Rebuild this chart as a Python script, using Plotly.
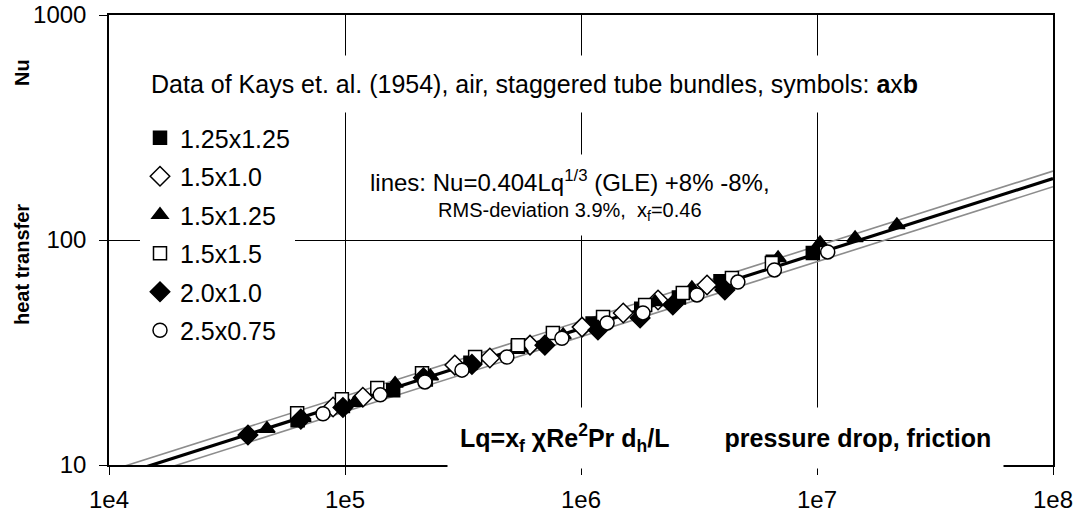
import plotly.graph_objects as go

# ---- data (Lq, Nu) per tube bundle a x b ----
sq_fill_lq = [6.3e4, 9.8e4, 1.6e5, 2.2e5, 3.4e5, 5.4e5, 1.12e6, 1.8e6, 2.6e6, 3.9e6, 6.5e6, 9.6e6]
sq_fill_nu = [15.8, 18.3, 21.5, 24.0, 28.5, 33.5, 42.5, 49.5, 55.5, 65.5, 80.0, 87.5]

dia_open_lq = [8.9e4, 1.19e5, 2.92e5, 4.11e5, 6.08e5, 1.01e6, 1.51e6, 2.12e6, 3.42e6]
dia_open_nu = [18.1, 20.0, 27.8, 29.9, 34.1, 41.0, 47.4, 54.1, 63.1]

tri_lq = [4.67e4, 6.64e4, 1.10e5, 1.63e5, 2.3e5, 3.45e5, 5.52e5, 8.4e5, 2.06e6, 2.95e6, 6.84e6, 1.03e7, 1.45e7, 2.18e7]
tri_nu = [14.5, 16.2, 18.9, 23.0, 24.8, 28.7, 33.1, 37.8, 53.0, 61.2, 83.2, 97.0, 102.0, 116.6]

sq_open_lq = [6.27e4, 9.7e4, 1.37e5, 2.12e5, 3.56e5, 5.41e5, 7.6e5, 1.24e6, 1.87e6, 2.70e6, 4.36e6, 6.44e6]
sq_open_nu = [17.0, 19.6, 22.0, 25.6, 30.2, 34.1, 38.6, 45.5, 51.4, 58.1, 67.8, 79.0]

dia_fill_lq = [3.88e4, 6.5e4, 9.8e4, 2.15e5, 3.45e5, 7.03e5, 1.18e6, 1.78e6, 2.45e6, 4.07e6]
dia_fill_nu = [13.6, 16.0, 18.0, 24.4, 28.0, 34.1, 39.8, 45.0, 51.4, 60.0]

circ_lq = [8.07e4, 1.41e5, 2.18e5, 3.13e5, 4.85e5, 8.3e5, 1.29e6, 1.83e6, 3.10e6, 4.62e6, 6.6e6, 1.11e7]
circ_nu = [16.9, 20.5, 23.4, 26.4, 30.2, 36.6, 42.8, 47.4, 57.0, 65.0, 73.6, 88.5]

# correlation lines Nu = 0.404 Lq^(1/3), +8 %, -8 % (end points)
line_lq = [1e4, 1e8]
line_nu = [8.70, 187.5]
line_up_nu = [9.40, 202.5]
line_lo_nu = [8.01, 172.5]

x_tickvals = [1e4, 1e5, 1e6, 1e7, 1e8]
x_ticktext = ["1e4", "1e5", "1e6", "1e7", "1e8"]
y_tickvals = [10, 100, 1000]
y_ticktext = ["10", "100", "1000"]

FONT = "Liberation Sans, Arial, sans-serif"

fig = go.Figure()

for ys, col, w in [(line_up_nu, "#8c8c8c", 1.6), (line_lo_nu, "#8c8c8c", 1.6), (line_nu, "black", 3.2)]:
    fig.add_trace(go.Scatter(x=line_lq, y=ys, mode="lines", showlegend=False,
                             line=dict(color=col, width=w), hoverinfo="skip"))

series = [
    ("1.25x1.25", sq_fill_lq, sq_fill_nu, "square", "black", 13),
    ("1.5x1.0", dia_open_lq, dia_open_nu, "diamond", "white", 15),
    ("1.5x1.25", tri_lq, tri_nu, "triangle-up", "black", 14),
    ("1.5x1.5", sq_open_lq, sq_open_nu, "square", "white", 13),
    ("2.0x1.0", dia_fill_lq, dia_fill_nu, "diamond", "black", 15),
    ("2.5x0.75", circ_lq, circ_nu, "circle", "white", 14),
]
for name, xs, ys, sym, fill, size in series:
    fig.add_trace(go.Scatter(
        x=xs, y=ys, mode="markers", name=name, legendgroup=name,
        marker=dict(symbol=sym, size=size, color=fill,
                    line=dict(color="black", width=1.5)),
    ))

W, H = 1076, 522
L, R, T, B = 109, 23, 15, 57
pw, ph = W - L - R, H - T - B

def px2paper(px, py):
    return (px - L) / pw, 1 - (py - T) / ph

annotations = [
    dict(x=150, y=84, pad=14, anchor="left", size=25,
         text="Data of Kays et. al. (1954), air, staggered tube bundles, symbols: <b>a</b>x<b>b</b>"),
    dict(x=570, y=195, pad=11, anchor="center", size=20,
         text="<span style='font-size:24px'>lines: Nu=0.404Lq<sup>1/3</sup> (GLE) +8% -8%,</span>"
              "<br>RMS-deviation 3.9%,  x<sub>f</sub>=0.46"),
    dict(x=459, y=438, pad=12, anchor="left", size=25,
         text="<b>Lq=x<sub>f</sub> χRe<sup>2</sup>Pr d<sub>h</sub>/L        pressure drop, friction</b>"),
]
for a in annotations:
    px = a["x"] - (a["pad"] if a["anchor"] == "left" else 0)
    xp, yp = px2paper(px, a["y"])
    fig.add_annotation(x=xp, y=yp, xref="paper", yref="paper", xanchor=a["anchor"], yanchor="middle",
                       text=a["text"], showarrow=False, bgcolor="white", borderpad=a["pad"],
                       align="center",
                       font=dict(family=FONT, size=a["size"], color="black"))

# y axis title pieces
for txt, py in [("heat transfer", 265), ("Nu", 73)]:
    xp, yp = px2paper(22, py)
    fig.add_annotation(x=xp, y=yp, xref="paper", yref="paper", xanchor="center", yanchor="middle",
                       text="<b>%s</b>" % txt, textangle=-90, showarrow=False,
                       font=dict(family=FONT, size=20, color="black"))

fig.update_layout(
    width=W, height=H,
    margin=dict(l=L, r=R, t=T, b=B, autoexpand=False),
    paper_bgcolor="white", plot_bgcolor="white",
    font=dict(family=FONT, size=24, color="black"),
    showlegend=True,
    legend=dict(x=(140 - L) / pw, y=1 - (115 - T) / ph, xanchor="left", yanchor="top",
                bgcolor="white", borderwidth=0, tracegroupgap=3,
                font=dict(family=FONT, size=25, color="black"), itemsizing="trace"),
)
fig.update_xaxes(type="log", range=[4, 8], tickvals=x_tickvals, ticktext=x_ticktext,
                 showgrid=True, gridcolor="black", gridwidth=1, automargin=False,
                 showline=True, linecolor="black", linewidth=1.5, mirror=True,
                 ticks="outside", ticklen=8, tickcolor="black", zeroline=False, ticklabelstandoff=4,
                 tickfont=dict(size=24))
fig.update_yaxes(type="log", range=[1, 3], tickvals=y_tickvals, ticktext=y_ticktext,
                 showgrid=True, gridcolor="black", gridwidth=1, automargin=False,
                 showline=True, linecolor="black", linewidth=1.5, mirror=True,
                 ticks="outside", ticklen=8, tickcolor="black", zeroline=False, ticklabelstandoff=8,
                 tickfont=dict(size=24))

fig.write_html("out.html")
